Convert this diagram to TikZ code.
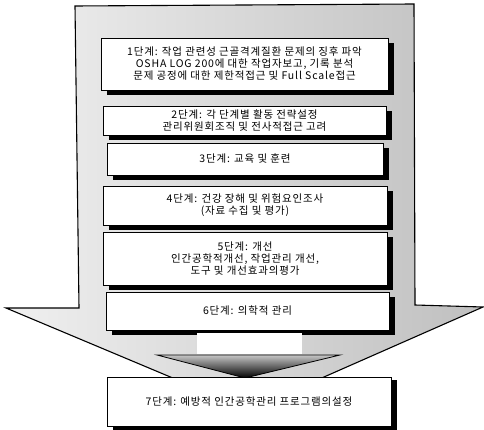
\documentclass[tikz,border=0pt]{standalone}
\usepackage{fontspec}
\setmainfont{Noto Sans CJK KR}
\usetikzlibrary{shadows}
\begin{document}
\begin{tikzpicture}[x=1pt,y=-1pt,
  stepbox/.style={draw=black, line width=0.6pt, fill=white, align=center,
    inner sep=0pt, font=\fontsize{10.5}{12}\selectfont\addfontfeature{LetterSpace=8},
    drop shadow={fill=black, opacity=1, shadow xshift=6pt, shadow yshift=-5pt}},
  bigarrow/.style={draw=black, line width=1.1pt, line join=miter, left color=gray!12, right color=gray!50},
  smallhead/.style={draw=black, line width=0.8pt, top color=gray!45, bottom color=black}
]
\useasboundingbox (0,0) rectangle (484,430);
% big background arrow
\draw[bigarrow] (75,6) -- (414,4) -- (415,305) -- (483,307) -- (249,410) -- (6,308) -- (79,308) -- cycle;
% steps
\node[stepbox, minimum width=287pt, minimum height=52pt] (s1) at (244.5,64)
  {1단계: 작업 관련성 근골격계질환 문제의 징후 파악\\OSHA LOG 200에 대한 작업자보고, 기록 분석\\문제 공정에 대한 제한적접근 및 Full Scale접근};
\node[stepbox, minimum width=283pt, minimum height=29pt] (s2) at (244.5,121)
  {2단계: 각 단계별 활동 전략설정\\관리위원회조직 및 전사적접근 고려};
\node[stepbox, minimum width=276pt, minimum height=32pt] (s3) at (245,159)
  {3단계: 교육 및 훈련};
\node[stepbox, minimum width=284pt, minimum height=39pt] (s4) at (245,205.5)
  {4단계: 건강 장해 및 위험요인조사\\(자료 수집 및 평가)};
\node[stepbox, minimum width=284pt, minimum height=53pt] (s5) at (245,258.5)
  {5단계: 개선\\인간공학적개선, 작업관리 개선,\\도구 및 개선효과의평가};
\node[stepbox, minimum width=283pt, minimum height=38pt] (s6) at (247.5,311)
  {6단계: 의학적 관리};
% small arrow from step 6 to step 7
\fill[white] (197,333) rectangle (302,354);
\draw[smallhead] (157,355) -- (340,355) -- (245,378) -- cycle;
\node[stepbox, minimum width=284pt, minimum height=49pt,
  drop shadow={fill=black, opacity=1, shadow xshift=6pt, shadow yshift=-3pt}] (s7) at (249,401.5)
  {7단계: 예방적 인간공학관리 프로그램의설정};
\end{tikzpicture}
\end{document}
